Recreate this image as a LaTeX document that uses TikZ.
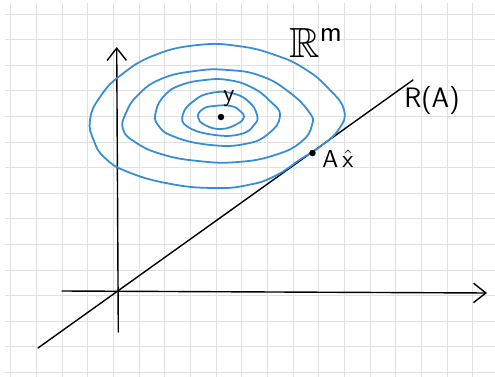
\documentclass[tikz,border=0pt]{standalone}
\usepackage{fontspec}
\usepackage{amssymb}
\usetikzlibrary{arrows.meta}
\definecolor{levelblue}{RGB}{52,141,214}
\tikzset{
  gridline/.style={black!12,line width=0.2mm},
  pen/.style={line width=0.8pt,line cap=round},
  axis/.style={pen,-{Straight Barb[length=7pt,width=11pt]}},
  level/.style={levelblue,line width=1pt,line join=round},
  dot/.style={circle,fill=black,inner sep=0pt,minimum size=1.3mm},
  hand/.style={inner sep=0pt,font=\sffamily}
}
\begin{document}
\begin{tikzpicture}[x=0.2mm,y=-0.2mm]
  \useasboundingbox (0,0) rectangle (495,377);
  % Squared paper
  \foreach \i in {0,...,18} {
    \draw[gridline] (11+25.65*\i,3) -- (11+25.65*\i,377);
  }
  \foreach \j in {0,...,14} {
    \draw[gridline] (5,14+25.6*\j) -- (495,14+25.6*\j);
  }
  % Axes
  \coordinate (xstart) at (62,291);
  \coordinate (xend) at (487,293);
  \coordinate (ystart) at (118.3,332);
  \coordinate (yend) at (116.7,47);
  \draw[axis] (xstart) -- (xend);
  \draw[axis] (ystart) -- (yend);
  % Range of A
  \coordinate (rlow) at (38,348);
  \coordinate (rhigh) at (413,80);
  \draw[pen] (rlow) -- (rhigh);
  % Level curves round y
  \draw[level] plot[smooth cycle,tension=0.8] coordinates {
    (344,110) (339,129) (321,146) (301,159) (275,176) (248,185) (215,188)
    (171,184) (128,172) (105,158) (94,141) (90,120) (100,97) (121,75)
    (155,55) (198,45) (238,46) (275,55) (305,69) (329,89)};
  \draw[level] plot[smooth cycle,tension=0.8] coordinates {
    (309,112) (312,125) (301,142) (275,155) (238,162) (198,161) (161,154)
    (135,142) (123,129) (126,113) (138,95) (161,79) (195,71) (228,70)
    (261,76) (289,92)};
  \draw[level] plot[smooth cycle,tension=0.8] coordinates {
    (280,116) (268,134) (245,144) (211,145) (175,137) (158,125)
    (156,111) (165,95) (181,85) (205,80) (228,80) (251,87) (270,101)};
  \draw[level] plot[smooth cycle,tension=0.8] coordinates {
    (257,115) (254,125) (241,134) (215,135) (188,127) (183,114)
    (195,100) (211,93) (231,93) (248,101)};
  \draw[level] plot[smooth cycle,tension=0.8] coordinates {
    (244,117) (237,124) (221,129) (205,125) (198,117) (203,109) (214,106)
    (231,106) (240,111)};
  % Points and labels
  \node[dot] (y) at (221,117) {};
  \node[dot] (Ax) at (312.5,153) {};
  \node[hand,font=\fontsize{14}{14}\sffamily] (ylab) at (229,99) {y};
  \node[hand,font=\fontsize{14}{14}\sffamily] (Axlab) at (338,159) {A\,$\hat{\mathsf{x}}$};
  \node[hand,font=\fontsize{16}{16}\sffamily] (RAlab) at (432,100) {R(A)};
  \node[hand,font=\fontsize{24}{24}\selectfont] (Rmlab) at (316,43) {$\mathbb{R}^{\mathsf{m}}$};
\end{tikzpicture}
\end{document}
